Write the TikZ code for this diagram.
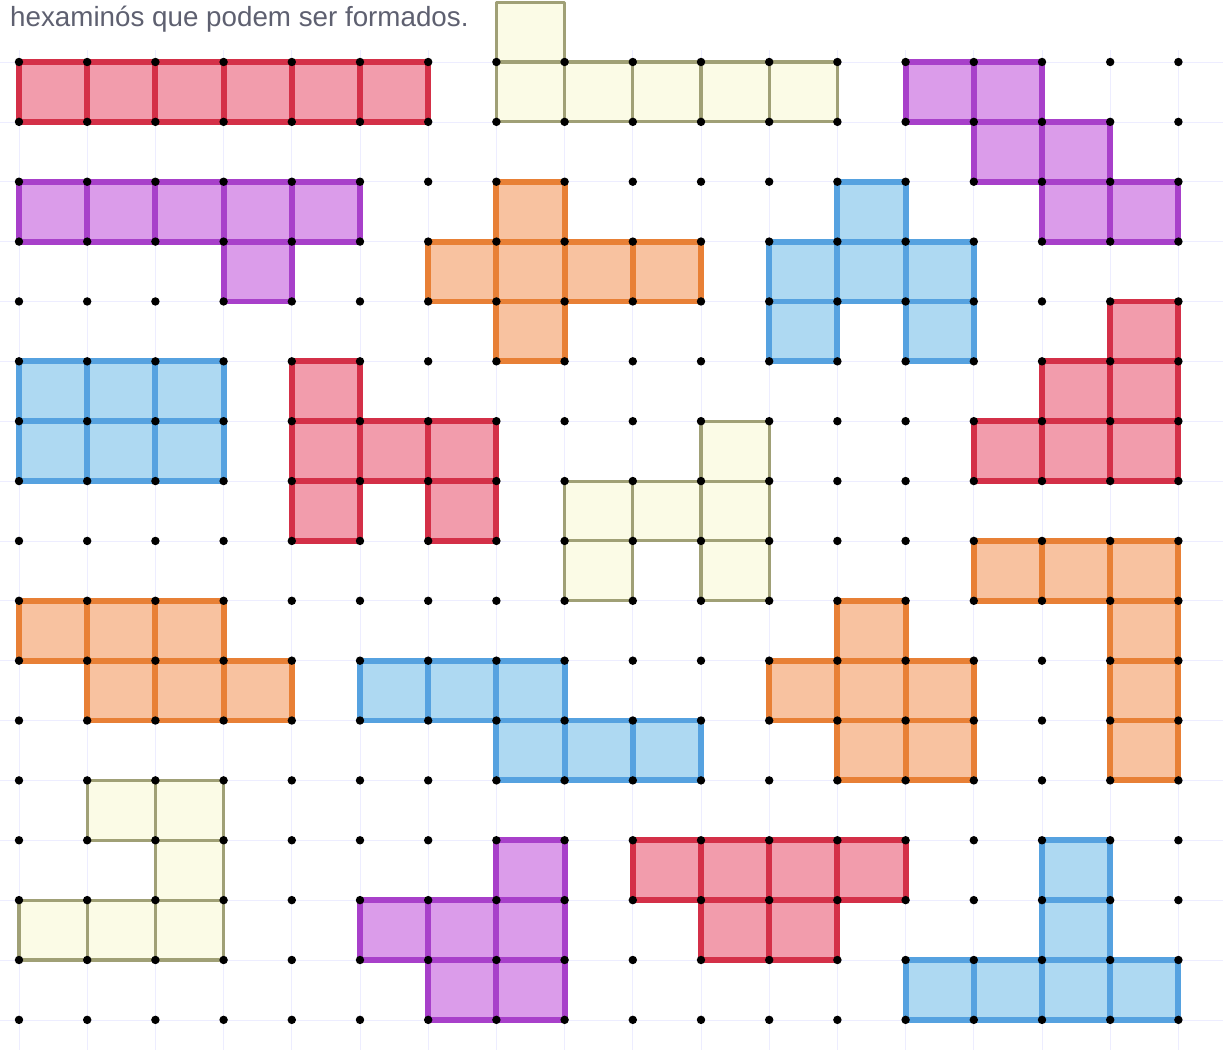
\documentclass[tikz,border=0pt]{standalone}
\usepackage{fontspec}
\setmainfont{Liberation Sans}
\usepackage{xcolor}
\usepackage{tikz}
\usetikzlibrary{positioning}
\definecolor{redfill}{HTML}{F29CAC}
\definecolor{redline}{HTML}{D43048}
\definecolor{purpfill}{HTML}{DB9CEA}
\definecolor{purpline}{HTML}{A840CA}
\definecolor{orngfill}{HTML}{F8C2A0}
\definecolor{orngline}{HTML}{E88036}
\definecolor{bluefill}{HTML}{AED9F2}
\definecolor{blueline}{HTML}{56A2E0}
\definecolor{yelfill}{HTML}{FBFBE6}
\definecolor{yelline}{HTML}{A0A076}
\definecolor{titlegray}{HTML}{5E6070}
\tikzset{
  redsq/.style  ={fill=redfill, draw=redline, line width=5pt, line join=round},
  purpsq/.style ={fill=purpfill, draw=purpline, line width=5pt, line join=round},
  orngsq/.style ={fill=orngfill, draw=orngline, line width=5pt, line join=round},
  bluesq/.style ={fill=bluefill, draw=blueline, line width=5pt, line join=round},
  yelsq/.style  ={fill=yelfill, draw=yelline, line width=2.6pt, line join=round},
  paper/.style  ={draw=blue!7, line width=0.6pt},
  title/.style  ={text=titlegray, font=\fontsize{23.7}{28}\selectfont, inner sep=0pt},
}

\begin{document}
\begin{tikzpicture}[x=2.046cm, y=-1.796cm]
  \useasboundingbox (-0.2786,-1.0355) rectangle (17.654,16.501);
  % graph paper
  \foreach \c in {0,...,17} {
    \draw[paper] (\c,-0.2) -- (\c,16.501);
  }
  \foreach \r in {0,...,16} {
    \draw[paper] (-0.2786,\r) -- (17.654,\r);
  }
  \node[title, anchor=base west] (title) at (-0.132,-0.601) {hexaminós que podem ser formados.};

  % first row
  \foreach \c/\r in {0/0,1/0,2/0,3/0,4/0,5/0}
    \draw[redsq] (\c,\r) rectangle ++(1,1);
  \foreach \c/\r in {7/-1,7/0,8/0,9/0,10/0,11/0}
    \draw[yelsq] (\c,\r) rectangle ++(1,1);
  \foreach \c/\r in {13/0,14/0,14/1,15/1,15/2,16/2}
    \draw[purpsq] (\c,\r) rectangle ++(1,1);

  % second row
  \foreach \c/\r in {0/2,1/2,2/2,3/2,4/2,3/3}
    \draw[purpsq] (\c,\r) rectangle ++(1,1);
  \foreach \c/\r in {7/2,6/3,7/3,8/3,9/3,7/4}
    \draw[orngsq] (\c,\r) rectangle ++(1,1);
  \foreach \c/\r in {12/2,11/3,12/3,13/3,11/4,13/4}
    \draw[bluesq] (\c,\r) rectangle ++(1,1);

  % third row
  \foreach \c/\r in {0/5,1/5,2/5,0/6,1/6,2/6}
    \draw[bluesq] (\c,\r) rectangle ++(1,1);
  \foreach \c/\r in {4/5,4/6,5/6,6/6,4/7,6/7}
    \draw[redsq] (\c,\r) rectangle ++(1,1);
  \foreach \c/\r in {10/6,8/7,9/7,10/7,8/8,10/8}
    \draw[yelsq] (\c,\r) rectangle ++(1,1);
  \foreach \c/\r in {16/4,15/5,16/5,14/6,15/6,16/6}
    \draw[redsq] (\c,\r) rectangle ++(1,1);

  % fourth row
  \foreach \c/\r in {14/8,15/8,16/8,16/9,16/10,16/11}
    \draw[orngsq] (\c,\r) rectangle ++(1,1);
  \foreach \c/\r in {0/9,1/9,2/9,1/10,2/10,3/10}
    \draw[orngsq] (\c,\r) rectangle ++(1,1);
  \foreach \c/\r in {5/10,6/10,7/10,7/11,8/11,9/11}
    \draw[bluesq] (\c,\r) rectangle ++(1,1);
  \foreach \c/\r in {12/9,11/10,12/10,13/10,12/11,13/11}
    \draw[orngsq] (\c,\r) rectangle ++(1,1);

  % last row
  \foreach \c/\r in {1/12,2/12,2/13,0/14,1/14,2/14}
    \draw[yelsq] (\c,\r) rectangle ++(1,1);
  \foreach \c/\r in {7/13,5/14,6/14,7/14,6/15,7/15}
    \draw[purpsq] (\c,\r) rectangle ++(1,1);
  \foreach \c/\r in {9/13,10/13,11/13,12/13,10/14,11/14}
    \draw[redsq] (\c,\r) rectangle ++(1,1);
  \foreach \c/\r in {15/13,15/14,13/15,14/15,15/15,16/15}
    \draw[bluesq] (\c,\r) rectangle ++(1,1);

  % dots
  \foreach \c in {0,...,17} {
    \foreach \r in {0,...,16} {
      \fill (\c,\r) circle (3.6pt);
    }
  }
\end{tikzpicture}
\end{document}
